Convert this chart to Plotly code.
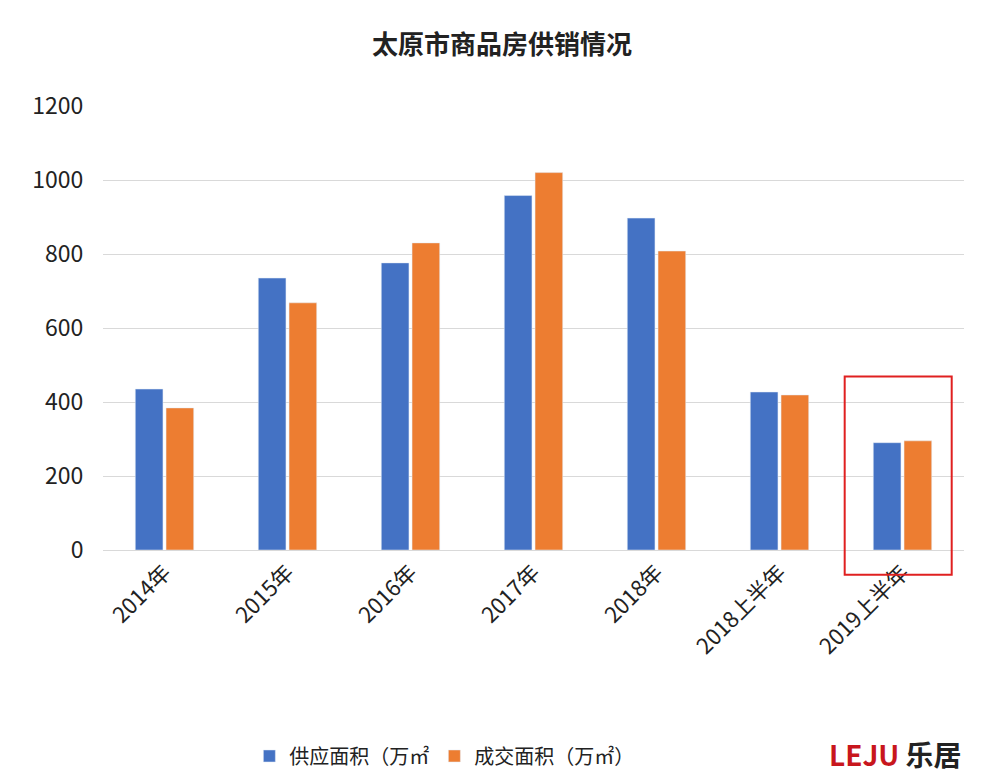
import plotly.graph_objects as go

categories = ["2014年", "2015年", "2016年", "2017年", "2018年", "2018上半年", "2019上半年"]
supply = [435, 735, 776, 958, 897, 427, 290]
deal = [384, 668, 830, 1020, 808, 419, 295]

font = "Noto Sans CJK SC"
fig = go.Figure()
fig.add_bar(x=categories, y=supply, name="供应面积（万㎡", marker_color="#4472C4")
fig.add_bar(x=categories, y=deal, name="成交面积（万㎡）", marker_color="#ED7D31")
fig.update_layout(
    width=988, height=780, paper_bgcolor="white", plot_bgcolor="white",
    font=dict(family=font, size=20, color="#222"),
    title=dict(text="<b>太原市商品房供销情况</b>", x=0.5, y=0.965, xanchor="center", font=dict(size=26, color="#222")),
    margin=dict(l=95, r=32, t=98, b=231),
    bargap=0.5, bargroupgap=0.1,
    legend=dict(orientation="h", x=0.17, y=-0.42, xanchor="left", yanchor="top", font=dict(size=20)),
    yaxis=dict(range=[0, 1200], dtick=200, gridcolor="#d9d9d9", zeroline=False, tickfont=dict(size=23),
               ticklen=14, ticks="outside", tickcolor="white", automargin=False),
    xaxis=dict(tickangle=-45, tickfont=dict(size=22), showline=True, linecolor="#d9d9d9", automargin=False),
    showlegend=True,
)
fig.add_shape(type="rect", xref="x", yref="paper", x0=5.53, x1=6.4, y0=-0.056, y1=0.391,
              line=dict(color="#E02020", width=2))
fig.add_annotation(xref="paper", yref="paper", x=1.0, y=-0.41, xanchor="right", yanchor="top",
                   text="<b><span style='color:#C8161D'>LEJU</span> 乐居</b>", showarrow=False,
                   font=dict(size=28, color="#222"))
fig.write_html("out.html")
